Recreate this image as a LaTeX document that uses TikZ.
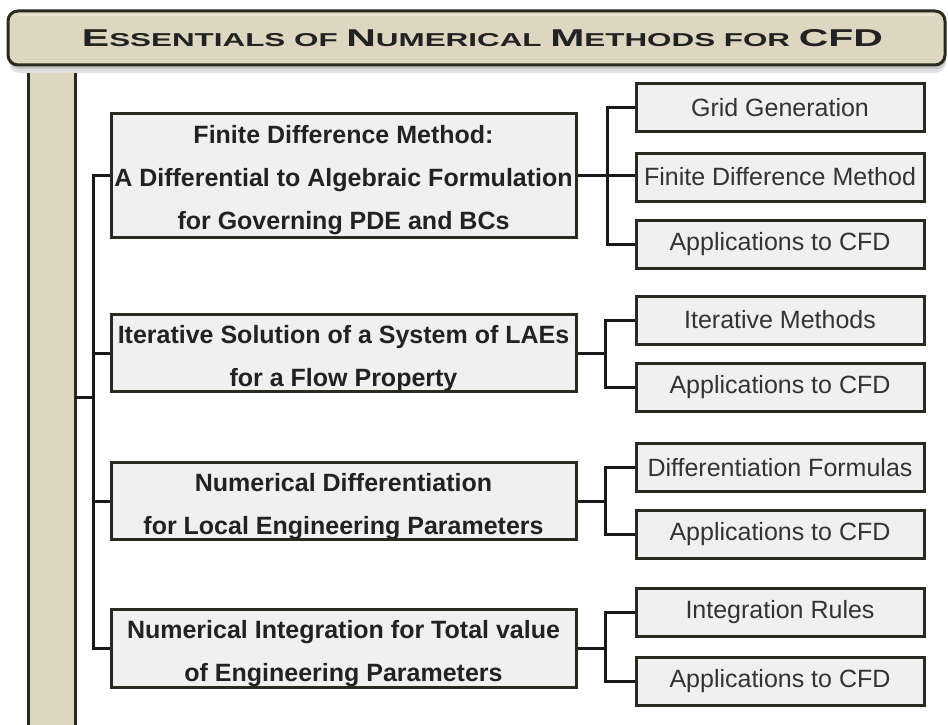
\documentclass[tikz,border=0pt]{standalone}
\usepackage{fontspec}
\setmainfont{Liberation Sans}
\usepackage{graphicx}
\definecolor{beige}{HTML}{DDD6C0}
\definecolor{boxfill}{HTML}{F0F0F0}
\definecolor{edge}{HTML}{2A2A20}
\definecolor{txt}{HTML}{222222}
\definecolor{subtxt}{HTML}{333333}
\newcommand\mySC[2]{{\fontsize{30}{30}\selectfont #1}{\fontsize{23}{23}\selectfont #2}}
\newcommand\mainlines[2]{\raisebox{#1}[0pt][0pt]{\renewcommand\arraystretch{1}\begin{tabular}[t]{@{}c@{}}#2\end{tabular}}}
\begin{document}
\begin{tikzpicture}[x=1pt,y=-1pt,
  mainbox/.style={draw=edge, line width=3pt, fill=boxfill, minimum width=465pt,
    minimum height=#1, inner sep=0pt,
    font=\fontsize{25}{43}\selectfont\bfseries, text=txt},
  subbox/.style={draw=edge, line width=3pt, fill=boxfill, minimum width=288pt,
    minimum height=48pt, inner sep=0pt, font=\fontsize{25}{30}\selectfont, text=subtxt},
  conn/.style={draw=black!90, line width=3pt}]
\useasboundingbox (0,0) rectangle (948,725);

% left vertical bar
\node[fill=beige, draw=none, minimum width=47pt, minimum height=680pt, inner sep=0pt, anchor=north west] (bar) at (28,60) {};
\draw[edge, line width=3pt] (bar.north west) -- (bar.south west);
\draw[edge, line width=3.5pt] (bar.north east) -- (bar.south east);

% title bar with shadow
\fill[black!12, rounded corners=11pt] (9,14) rectangle (946,73);
\fill[black!22, rounded corners=10pt] (9,13) rectangle (946,69);
\draw[edge, line width=3pt, fill=beige, rounded corners=10pt] (8,11) rectangle (945,65);
\draw[white, opacity=0.35, line width=2pt] (18,15) -- (935,15);
\node[anchor=base, inner sep=0pt, text=txt] (title) at (482.5,47)
  {\resizebox{801pt}{17pt}{\fontsize{23}{23}\selectfont\bfseries\mySC{E}{SSENTIALS} \mySC{}{OF} \mySC{N}{UMERICAL} \mySC{M}{ETHODS} \mySC{}{FOR} {\fontsize{30}{30}\selectfont CFD}}};

% main boxes
\node[mainbox=124pt] (b1) at (343.5,175) {\mainlines{31.5pt}{Finite Difference Method:\\A Differential to Algebraic Formulation\\for Governing PDE and BCs}};
\node[mainbox=77pt] (b2) at (343.5,353) {\mainlines{10pt}{Iterative Solution of a System of LAEs\\for a Flow Property}};
\node[mainbox=77pt] (b3) at (343.5,501) {\mainlines{10pt}{Numerical Differentiation\\for Local Engineering Parameters}};
\node[mainbox=78pt] (b4) at (343.5,648) {\mainlines{10pt}{Numerical Integration for Total value\\of Engineering Parameters}};

% sub boxes
\node[subbox] (r1a) at (780,107.5) {Grid Generation};
\node[subbox] (r1b) at (780,177) {Finite Difference Method};
\node[subbox] (r1c) at (780,244) {Applications to CFD};
\node[subbox] (r2a) at (780,320) {Iterative Methods};
\node[subbox] (r2b) at (780,387.5) {Applications to CFD};
\node[subbox] (r3a) at (780,467.5) {Differentiation Formulas};
\node[subbox] (r3b) at (780,534) {Applications to CFD};
\node[subbox] (r4a) at (780,612) {Integration Rules};
\node[subbox] (r4b) at (780,681) {Applications to CFD};

% trunk
\coordinate (tk) at (93,0);
\coordinate (j) at (93,397);
\draw[conn] (b1.west) -- (b1.west -| tk) -- (b4.west -| tk) -- (b4.west);
\draw[conn] (b2.west) -- (b2.west -| tk);
\draw[conn] (b3.west) -- (b3.west -| tk);
\draw[conn] (bar.east |- j) -- (j);

% right spines
\coordinate (s1) at (607,0);
\coordinate (s2) at (605,0);
\draw[conn] (r1a.west) -- (r1a.west -| s1) -- (r1c.west -| s1) -- (r1c.west);
\draw[conn] (b1.east) -- (b1.east -| r1b.west);
\draw[conn] (r2a.west) -- (r2a.west -| s2) -- (r2b.west -| s2) -- (r2b.west);
\draw[conn] (b2.east) -- (b2.east -| s2);
\draw[conn] (r3a.west) -- (r3a.west -| s2) -- (r3b.west -| s2) -- (r3b.west);
\draw[conn] (b3.east) -- (b3.east -| s2);
\draw[conn] (r4a.west) -- (r4a.west -| s2) -- (r4b.west -| s2) -- (r4b.west);
\draw[conn] (b4.east) -- (b4.east -| s2);
\end{tikzpicture}
\end{document}
